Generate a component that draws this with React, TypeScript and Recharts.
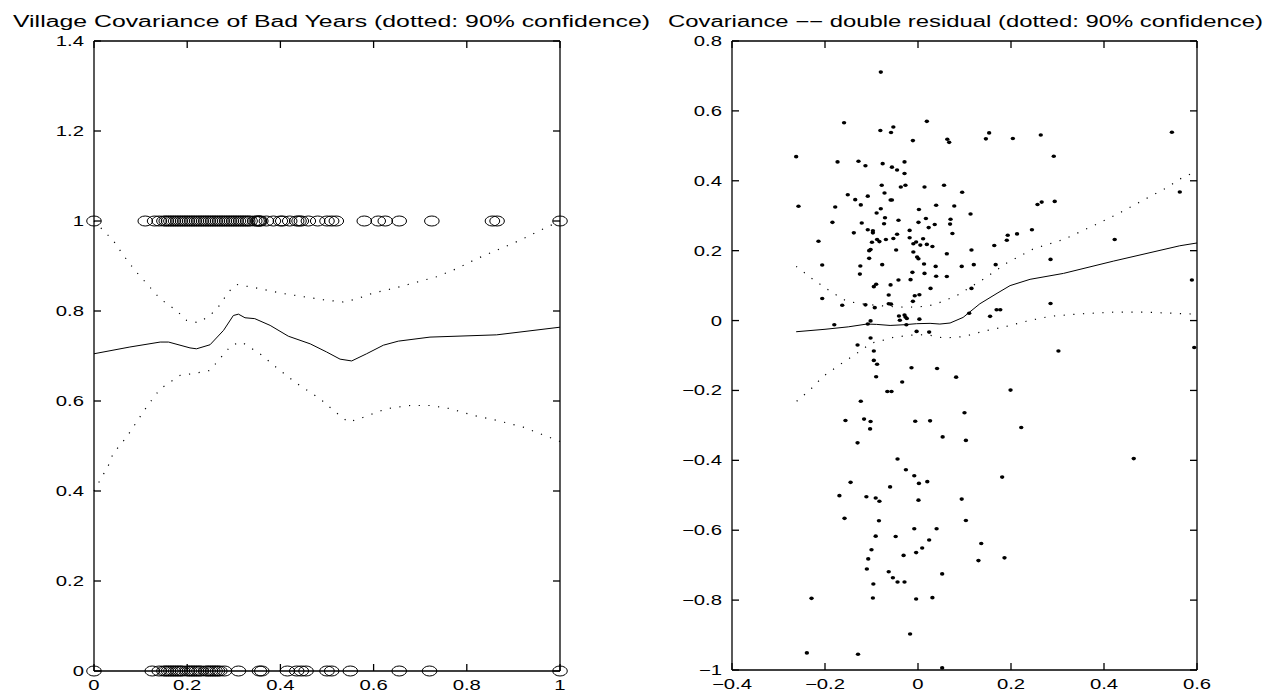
import React from 'react'
import { ComposedChart, Scatter, Line, XAxis, YAxis } from 'recharts'

// left panel: 0/1 outcomes (circles), kernel fit and 90% bands
const badOnes = [0, 0.11, 0.13, 0.14, 0.15, 0.155, 0.16, 0.165, 0.17, 0.175, 0.18, 0.185, 0.19, 0.195, 0.2, 0.205, 0.21, 0.215, 0.22, 0.225, 0.23, 0.235, 0.24, 0.245, 0.25, 0.255, 0.26, 0.265, 0.27, 0.275, 0.28, 0.285, 0.29, 0.295, 0.3, 0.305, 0.31, 0.315, 0.32, 0.325, 0.33, 0.335, 0.345, 0.35, 0.353, 0.355, 0.358, 0.37, 0.385, 0.4, 0.405, 0.42, 0.435, 0.44, 0.445, 0.46, 0.48, 0.5, 0.51, 0.52, 0.58, 0.61, 0.625, 0.655, 0.725, 0.855, 0.865, 1]
const badZeros = [0, 0.125, 0.14, 0.15, 0.155, 0.16, 0.165, 0.17, 0.175, 0.18, 0.185, 0.19, 0.2, 0.205, 0.21, 0.215, 0.22, 0.225, 0.23, 0.24, 0.245, 0.25, 0.255, 0.26, 0.265, 0.27, 0.28, 0.31, 0.355, 0.36, 0.415, 0.435, 0.445, 0.455, 0.5, 0.51, 0.55, 0.655, 0.72, 1]

const leftFit = [[0, 0.705], [0.077, 0.72], [0.142, 0.731], [0.16, 0.731], [0.206, 0.718], [0.22, 0.716], [0.249, 0.725], [0.278, 0.757], [0.299, 0.79], [0.31, 0.793], [0.324, 0.785], [0.345, 0.783], [0.378, 0.768], [0.417, 0.744], [0.464, 0.727], [0.499, 0.709], [0.528, 0.693], [0.553, 0.689], [0.585, 0.705], [0.621, 0.724], [0.653, 0.733], [0.721, 0.742], [0.864, 0.747], [1, 0.764]]
const leftUpper = [[0, 1], [0.041, 0.957], [0.063, 0.924], [0.088, 0.89], [0.113, 0.861], [0.142, 0.827], [0.177, 0.801], [0.199, 0.779], [0.224, 0.774], [0.249, 0.79], [0.27, 0.813], [0.288, 0.842], [0.306, 0.859], [0.349, 0.851], [0.399, 0.84], [0.442, 0.833], [0.492, 0.825], [0.535, 0.82], [0.564, 0.827], [0.599, 0.84], [0.642, 0.85], [0.692, 0.864], [0.735, 0.876], [0.778, 0.894], [0.821, 0.916], [0.864, 0.935], [0.914, 0.957], [0.957, 0.979], [1, 1]]
const leftLower = [[0, 0.4], [0.031, 0.457], [0.041, 0.483], [0.07, 0.52], [0.113, 0.587], [0.142, 0.627], [0.185, 0.657], [0.213, 0.661], [0.249, 0.668], [0.27, 0.694], [0.295, 0.724], [0.317, 0.731], [0.356, 0.705], [0.399, 0.668], [0.435, 0.639], [0.485, 0.605], [0.514, 0.579], [0.546, 0.553], [0.578, 0.564], [0.628, 0.583], [0.678, 0.59], [0.721, 0.59], [0.764, 0.583], [0.814, 0.568], [0.864, 0.557], [0.921, 0.542], [1, 0.51]]

// right panel: double residuals
const residPts = [
  [-0.08, 0.711], [-0.262, 0.469], [-0.257, 0.327], [-0.159, 0.566], [-0.081, 0.544], [-0.053, 0.554], [-0.058, 0.538], [0.019, 0.57], [-0.011, 0.515],
  [-0.173, 0.454], [-0.128, 0.456], [-0.113, 0.443], [-0.076, 0.449], [-0.056, 0.439], [-0.045, 0.431], [-0.029, 0.454], [-0.029, 0.421], [-0.078, 0.387],
  [-0.027, 0.387], [-0.037, 0.382], [0.014, 0.382], [-0.072, 0.365], [-0.151, 0.36], [-0.135, 0.346], [-0.108, 0.356], [-0.123, 0.331], [-0.059, 0.345],
  [-0.056, 0.345], [-0.08, 0.32], [-0.089, 0.308], [-0.178, 0.325], [-0.184, 0.281], [0.039, 0.33], [0.002, 0.318], [-0.071, 0.294], [-0.042, 0.287],
  [0.017, 0.292], [-0.121, 0.279], [-0.073, 0.277], [0.036, 0.275], [0.001, 0.281], [0.023, 0.266], [-0.138, 0.251], [-0.108, 0.26], [-0.097, 0.257],
  [-0.097, 0.251], [-0.018, 0.258], [-0.045, 0.247], [-0.053, 0.235], [-0.088, 0.232], [-0.069, 0.232], [-0.083, 0.226], [-0.018, 0.237], [-0.099, 0.224],
  [-0.004, 0.225], [0.011, 0.234], [-0.01, 0.22], [0.005, 0.216], [0.019, 0.218], [0.031, 0.212], [-0.214, 0.227], [-0.102, 0.203], [-0.105, 0.2],
  [-0.047, 0.202], [-0.01, 0.196], [-0.002, 0.182], [0.001, 0.177], [-0.105, 0.178], [-0.206, 0.159], [-0.124, 0.156], [-0.077, 0.16], [0.038, 0.155],
  [0.013, 0.162], [-0.125, 0.133], [-0.012, 0.138], [0.014, 0.135], [0.039, 0.127], [-0.042, 0.116], [-0.016, 0.117], [-0.059, 0.102], [-0.09, 0.104],
  [-0.095, 0.097], [0.027, 0.092], [-0.206, 0.063], [-0.063, 0.073], [-0.007, 0.071], [0.003, 0.074], [-0.011, 0.055], [-0.163, 0.044], [-0.113, 0.045],
  [-0.063, 0.048], [-0.058, 0.047], [-0.029, 0.016], [-0.093, 0.037], [-0.027, 0.01], [-0.041, 0.013], [-0.039, 0.001], [-0.024, 0.006], [0.003, 0.004],
  [-0.102, -0.001], [-0.18, -0.012], [-0.108, -0.01], [-0.025, -0.012], [-0.003, -0.031], [0.024, -0.033], [-0.102, -0.05], [-0.13, -0.07], [-0.095, -0.087],
  [-0.095, -0.114], [-0.088, -0.125], [-0.09, -0.161], [-0.014, -0.135], [0.041, -0.137], [-0.034, -0.176], [-0.066, -0.203], [-0.057, -0.203], [-0.123, -0.231],
  [-0.156, -0.286], [-0.116, -0.282], [-0.102, -0.289], [-0.006, -0.288], [0.026, -0.287], [-0.103, -0.31], [-0.13, -0.35], [-0.044, -0.396], [-0.026, -0.427],
  [-0.008, -0.444], [0.002, -0.466], [0.02, -0.461], [-0.145, -0.463], [-0.06, -0.476], [-0.169, -0.501], [-0.111, -0.504], [-0.091, -0.508], [-0.083, -0.517],
  [0.001, -0.514], [-0.158, -0.566], [-0.084, -0.573], [-0.008, -0.596], [0.04, -0.596], [-0.091, -0.617], [-0.048, -0.618], [0.024, -0.628], [-0.1, -0.656],
  [0.009, -0.651], [-0.004, -0.664], [-0.031, -0.672], [-0.107, -0.682], [-0.11, -0.711], [-0.063, -0.719], [-0.054, -0.736], [-0.044, -0.748], [-0.029, -0.748],
  [-0.096, -0.754], [-0.229, -0.795], [-0.097, -0.794], [-0.004, -0.797], [0.031, -0.793], [-0.017, -0.897], [-0.239, -0.951], [-0.129, -0.955],
  [0.063, 0.519], [0.067, 0.51], [0.153, 0.537], [0.146, 0.52], [0.204, 0.521], [0.264, 0.531], [0.546, 0.539], [0.292, 0.47], [0.056, 0.387],
  [0.095, 0.367], [0.078, 0.328], [0.257, 0.332], [0.266, 0.339], [0.294, 0.341], [0.563, 0.368], [0.113, 0.305], [0.07, 0.29], [0.069, 0.276],
  [0.074, 0.249], [0.245, 0.26], [0.213, 0.248], [0.193, 0.244], [0.191, 0.23], [0.164, 0.215], [0.115, 0.202], [0.062, 0.191], [0.285, 0.175],
  [0.094, 0.155], [0.12, 0.16], [0.167, 0.16], [0.062, 0.126], [0.115, 0.092], [0.423, 0.232], [0.285, 0.049], [0.11, 0.021], [0.169, 0.031],
  [0.177, 0.031], [0.155, 0.012], [0.302, -0.087], [0.082, -0.162], [0.199, -0.199], [0.1, -0.264], [0.222, -0.306], [0.053, -0.333], [0.103, -0.343],
  [0.464, -0.395], [0.181, -0.448], [0.094, -0.511], [0.103, -0.572], [0.136, -0.638], [0.186, -0.679], [0.13, -0.687], [0.052, -0.725], [0.052, -0.994],
  [0.589, 0.116], [0.594, -0.077],
]
const rightFit = [[-0.262, -0.032], [-0.2, -0.025], [-0.15, -0.018], [-0.11, -0.01], [-0.089, -0.011], [-0.06, -0.014], [-0.03, -0.012], [-0.003, -0.009], [0.026, -0.008], [0.047, -0.01], [0.069, -0.007], [0.097, 0.009], [0.133, 0.048], [0.17, 0.078], [0.198, 0.1], [0.241, 0.118], [0.313, 0.135], [0.42, 0.17], [0.563, 0.214], [0.6, 0.222]]
const rightUpper = [[-0.262, 0.155], [-0.225, 0.117], [-0.189, 0.084], [-0.153, 0.055], [-0.11, 0.046], [-0.067, 0.041], [-0.024, 0.038], [0.019, 0.041], [0.04, 0.048], [0.083, 0.071], [0.14, 0.118], [0.19, 0.164], [0.248, 0.205], [0.313, 0.232], [0.37, 0.267], [0.428, 0.304], [0.485, 0.345], [0.535, 0.38], [0.563, 0.405], [0.6, 0.428]]
const rightLower = [[-0.261, -0.231], [-0.232, -0.198], [-0.204, -0.16], [-0.168, -0.126], [-0.135, -0.097], [-0.118, -0.081], [-0.1, -0.064], [-0.082, -0.059], [-0.053, -0.048], [-0.017, -0.042], [0.019, -0.04], [0.055, -0.05], [0.098, -0.046], [0.14, -0.031], [0.183, -0.019], [0.233, -0.002], [0.283, 0.012], [0.348, 0.019], [0.42, 0.024], [0.491, 0.024], [0.563, 0.02], [0.6, 0.018]]

const leftXTicks = [0, 0.2, 0.4, 0.6, 0.8, 1]
const leftYTicks = [0, 0.2, 0.4, 0.6, 0.8, 1, 1.2, 1.4]
const rightXTicks = [-0.4, -0.2, 0, 0.2, 0.4, 0.6]
const rightYTicks = [-1, -0.8, -0.6, -0.4, -0.2, 0, 0.2, 0.4, 0.6, 0.8]

const FONT = '"Liberation Sans", Arial, Helvetica, sans-serif'
const STRETCH = 1.45
const TICK = 7

const toXY = (pairs: number[][]) => pairs.map(([x, y]) => ({ x, y }))

const fmt = (v: number) => {
  const s = String(Math.round(v * 10) / 10)
  return s.replace('-', '\u2212')
}

// labels a bit stretched like the original print
const LeftLabel = (props: any) => {
  const { x, y, payload } = props
  return (
    <g transform={`translate(${x - 10},${y})`}>
      <text transform={`scale(${STRETCH},1)`} textAnchor="end" dy="0.36em" fontSize={14} fontFamily={FONT} fill="#000">
        {fmt(payload.value)}
      </text>
    </g>
  )
}

const BottomLabel = (props: any) => {
  const { x, y, payload } = props
  return (
    <g transform={`translate(${x},${y + 9})`}>
      <text transform={`scale(${STRETCH},1)`} textAnchor="middle" dy="0.71em" fontSize={14} fontFamily={FONT} fill="#000">
        {fmt(payload.value)}
      </text>
    </g>
  )
}

// inward tick marks on all four sides (axis layers clip them, so draw them as a series)
const tickStroke = { stroke: '#000', strokeWidth: 1.3 }
const TickUp = (p: any) => <line x1={p.cx} y1={p.cy} x2={p.cx} y2={p.cy - TICK} {...tickStroke} />
const TickDown = (p: any) => <line x1={p.cx} y1={p.cy} x2={p.cx} y2={p.cy + TICK} {...tickStroke} />
const TickIn = (p: any) => <line x1={p.cx} y1={p.cy} x2={p.cx + TICK} y2={p.cy} {...tickStroke} />
const TickBack = (p: any) => <line x1={p.cx} y1={p.cy} x2={p.cx - TICK} y2={p.cy} {...tickStroke} />

const OpenCircle = (props: any) => (
  <ellipse cx={props.cx} cy={props.cy} rx={7.3} ry={5} fill="none" stroke="#000" strokeWidth={1} />
)

const Dot = (props: any) => (
  <ellipse cx={props.cx} cy={props.cy} rx={2.2} ry={1.8} fill="#000" />
)

const axisStyle = { stroke: '#000', strokeWidth: 1.3 }

function Panel({ width, margin, xDomain, yDomain, xTicks, yTicks, children }: any) {
  const bottomMarks = xTicks.map((t: number) => ({ x: t, y: yDomain[0] }))
  const topMarks = xTicks.map((t: number) => ({ x: t, y: yDomain[1] }))
  const leftMarks = yTicks.map((t: number) => ({ x: xDomain[0], y: t }))
  const rightMarks = yTicks.map((t: number) => ({ x: xDomain[1], y: t }))
  return (
    <ComposedChart width={width} height={694} margin={margin}>
      <XAxis type="number" dataKey="x" domain={xDomain} ticks={xTicks} interval={0} height={20}
        tickSize={0} tickMargin={0} axisLine={axisStyle} tickLine={false} tick={<BottomLabel />} />
      <XAxis xAxisId="top" orientation="top" type="number" dataKey="x" domain={xDomain} ticks={xTicks} interval={0} height={10}
        tickSize={0} axisLine={axisStyle} tickLine={false} tick={false} />
      <YAxis type="number" dataKey="y" domain={yDomain} ticks={yTicks} interval={0} width={40}
        tickSize={0} tickMargin={0} axisLine={axisStyle} tickLine={false} tick={<LeftLabel />} />
      <YAxis yAxisId="right" orientation="right" type="number" dataKey="y" domain={yDomain} ticks={yTicks} interval={0} width={10}
        tickSize={0} axisLine={axisStyle} tickLine={false} tick={false} />
      <Scatter data={bottomMarks} shape={<TickUp />} isAnimationActive={false} />
      <Scatter data={topMarks} shape={<TickDown />} isAnimationActive={false} />
      <Scatter data={leftMarks} shape={<TickIn />} isAnimationActive={false} />
      <Scatter data={rightMarks} shape={<TickBack />} isAnimationActive={false} />
      {children}
    </ComposedChart>
  )
}

export default function App() {
  const ones = badOnes.map((x) => ({ x, y: 1 }))
  const zeros = badZeros.map((x) => ({ x, y: 0 }))
  const dotted = { stroke: '#000', strokeWidth: 1.2, strokeDasharray: '1.2 8.5', dot: false, isAnimationActive: false, type: 'linear' as const }
  const solid = { stroke: '#000', strokeWidth: 1, dot: false, isAnimationActive: false, type: 'linear' as const }

  return (
    <div style={{ position: 'absolute', left: 0, top: 0, width: 1277, height: 694, background: '#fff' }}>
      <div style={{ position: 'absolute', left: 0, top: 0 }}>
        <Panel width={600} margin={{ top: 31, right: 30, bottom: 3, left: 54 }}
          xDomain={[0, 1]} yDomain={[0, 1.4]} xTicks={leftXTicks} yTicks={leftYTicks}>
          <Scatter data={ones} shape={<OpenCircle />} isAnimationActive={false} />
          <Scatter data={zeros} shape={<OpenCircle />} isAnimationActive={false} />
          <Line data={toXY(leftUpper)} dataKey="y" {...dotted} />
          <Line data={toXY(leftLower)} dataKey="y" {...dotted} />
          <Line data={toXY(leftFit)} dataKey="y" {...solid} />
        </Panel>
      </div>
      <div style={{ position: 'absolute', left: 640, top: 0 }}>
        <Panel width={600} margin={{ top: 31, right: 33, bottom: 4, left: 52 }}
          xDomain={[-0.4, 0.6]} yDomain={[-1, 0.8]} xTicks={rightXTicks} yTicks={rightYTicks}>
          <Scatter data={toXY(residPts)} shape={<Dot />} isAnimationActive={false} />
          <Line data={toXY(rightUpper)} dataKey="y" {...dotted} />
          <Line data={toXY(rightLower)} dataKey="y" {...dotted} />
          <Line data={toXY(rightFit)} dataKey="y" {...solid} />
        </Panel>
      </div>
      <svg width={1277} height={694} style={{ position: 'absolute', left: 0, top: 0, pointerEvents: 'none' }}>
        <text x={13} y={27} fontSize={16} fontFamily={FONT} fill="#000" textLength={637} lengthAdjust="spacingAndGlyphs">
          Village Covariance of Bad Years (dotted: 90% confidence)
        </text>
        <text x={668} y={27} fontSize={16} fontFamily={FONT} fill="#000" textLength={595} lengthAdjust="spacingAndGlyphs">
          Covariance {'\u2212\u2212'} double residual (dotted: 90% confidence)
        </text>
      </svg>
    </div>
  )
}
